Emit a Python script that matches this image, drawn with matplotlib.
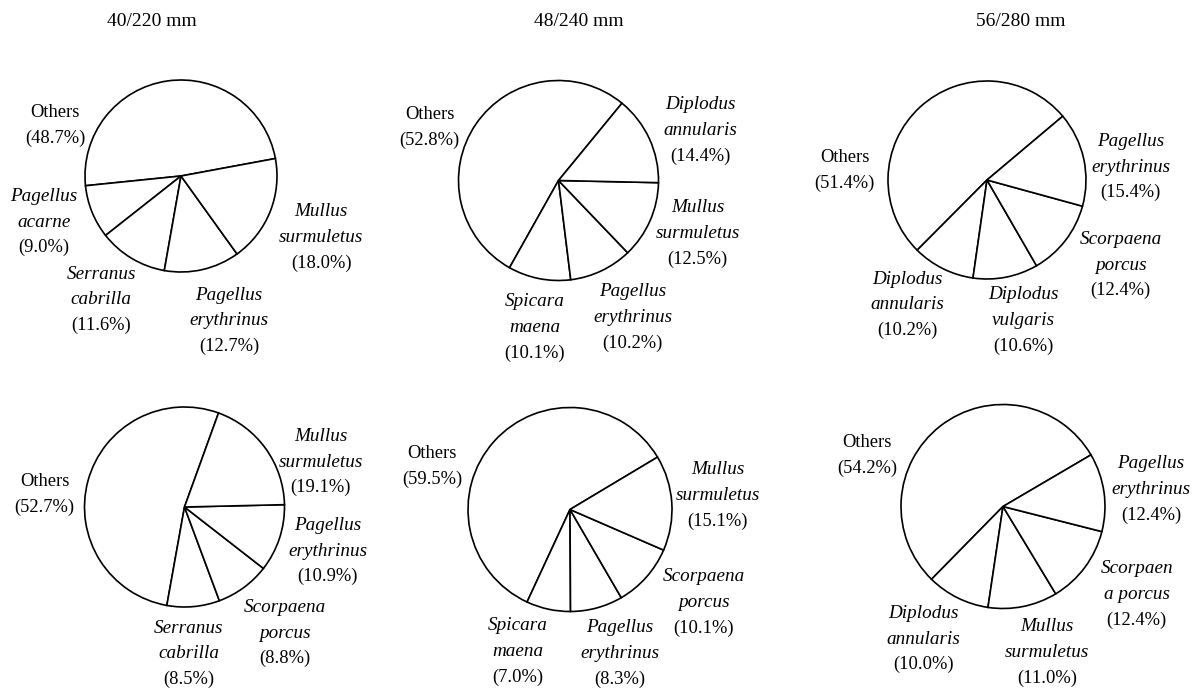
import matplotlib
matplotlib.use("Agg")
import matplotlib.pyplot as plt

plt.rcParams["font.family"] = ["Liberation Serif", "DejaVu Serif"]

W, H = 1197, 689

panel_titles = ["40/220 mm", "48/240 mm", "56/280 mm"]

# mesh 40/220 mm, top and bottom
names_a1 = ["Others", "Pagellus\nacarne", "Serranus\ncabrilla", "Pagellus\nerythrinus", "Mullus\nsurmuletus"]
shares_a1 = [48.7, 9.0, 11.6, 12.7, 18.0]
names_a2 = ["Others", "Serranus\ncabrilla", "Scorpaena\nporcus", "Pagellus\nerythrinus", "Mullus\nsurmuletus"]
shares_a2 = [52.7, 8.5, 8.8, 10.9, 19.1]

# mesh 48/240 mm
names_b1 = ["Others", "Spicara\nmaena", "Pagellus\nerythrinus", "Mullus\nsurmuletus", "Diplodus\nannularis"]
shares_b1 = [52.8, 10.1, 10.2, 12.5, 14.4]
names_b2 = ["Others", "Spicara\nmaena", "Pagellus\nerythrinus", "Scorpaena\nporcus", "Mullus\nsurmuletus"]
shares_b2 = [59.5, 7.0, 8.3, 10.1, 15.1]

# mesh 56/280 mm
names_c1 = ["Others", "Diplodus\nannularis", "Diplodus\nvulgaris", "Scorpaena\nporcus", "Pagellus\nerythrinus"]
shares_c1 = [51.4, 10.2, 10.6, 12.4, 15.4]
names_c2 = ["Others", "Diplodus\nannularis", "Mullus\nsurmuletus", "Scorpaen\na porcus", "Pagellus\nerythrinus"]
shares_c2 = [54.2, 10.0, 11.0, 12.4, 12.4]

# layout: pie centre (px), radius (px), start angle, label anchors in radius units
layout = [
	dict(names=names_a1, shares=shares_a1, c=(181, 176), r=96, start=10.5,
		 lab=[(-1.31, 0.53), (-1.43, -0.48), (-0.83, -1.29), (0.50, -1.51), (1.46, -0.64)]),
	dict(names=names_b1, shares=shares_b1, c=(558.5, 180.5), r=100, start=50.6,
		 lab=[(-1.29, 0.53), (-0.24, -1.47), (0.74, -1.37), (1.39, -0.53), (1.42, 0.50)]),
	dict(names=names_c1, shares=shares_c1, c=(987, 180), r=99, start=40.1,
		 lab=[(-1.44, 0.10), (-0.80, -1.26), (0.37, -1.42), (1.35, -0.86), (1.45, 0.13)]),
	dict(names=names_a2, shares=shares_a2, c=(184.5, 507), r=100, start=70.1,
		 lab=[(-1.40, 0.13), (0.04, -1.47), (1.00, -1.26), (1.43, -0.44), (1.36, 0.45)]),
	dict(names=names_b2, shares=shares_b2, c=(570, 509.5), r=102, start=30.9,
		 lab=[(-1.35, 0.42), (-0.51, -1.39), (0.49, -1.41), (1.31, -0.91), (1.45, 0.14)]),
	dict(names=names_c2, shares=shares_c2, c=(1003, 506.5), r=102, start=30.4,
		 lab=[(-1.33, 0.50), (-0.78, -1.30), (0.43, -1.43), (1.31, -0.86), (1.45, 0.17)]),
]

title_pos = [(152, 22), (579, 22), (1021, 22)]
FS = 13.3
FS_IT = 13.8
LINE = 18.5  # line spacing, points


def draw_pie(fig, p):
	cx, cy = p["c"]
	r = p["r"]
	ax = fig.add_axes([(cx - r) / W, 1 - (cy + r) / H, 2 * r / W, 2 * r / H])
	wedges, _ = ax.pie(
		p["shares"], radius=1, startangle=p["start"], counterclock=True,
		colors=["white"] * len(p["shares"]),
		wedgeprops=dict(edgecolor="black", linewidth=1.2),
	)
	for w in wedges:
		w.set_clip_on(False)
	ax.set_xlim(-1, 1)
	ax.set_ylim(-1, 1)
	ax.set_aspect("equal")
	ax.axis("off")

	for name, share, (lx, ly) in zip(p["names"], p["shares"], p["lab"]):
		lines = name.split("\n") + [f"({share:.1f}%)"]
		n = len(lines)
		for i, line in enumerate(lines):
			off = ((n - 1) / 2 - i) * LINE
			italic = name != "Others" and i < n - 1
			ax.annotate(line, xy=(lx, ly), xytext=(0, off), textcoords="offset points",
						ha="center", va="center", fontsize=FS_IT if italic else FS,
						style="italic" if italic else "normal", annotation_clip=False)


def main():
	fig = plt.figure(figsize=(W / 100, H / 100), dpi=100)
	for t, (tx, ty) in zip(panel_titles, title_pos):
		fig.text(tx / W, 1 - ty / H, t, ha="center", va="center", fontsize=14)
	for p in layout:
		draw_pie(fig, p)
	fig.savefig("out.png", dpi=100, facecolor="white")


if __name__ == '__main__':
	main()
